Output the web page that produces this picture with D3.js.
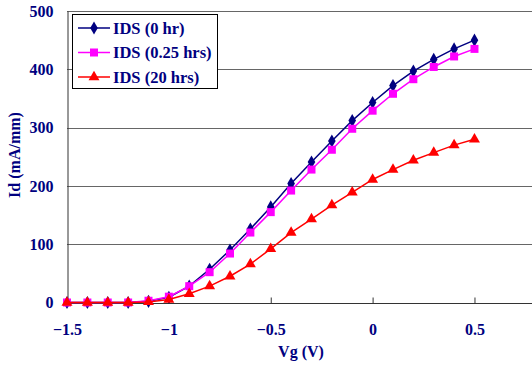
<!DOCTYPE html>
<html>
<head>
<meta charset="utf-8">
<script src="https://cdn.jsdelivr.net/npm/d3@7"></script>
<style>
  body { margin: 0; background: #fff; }
  svg { display: block; }
</style>
</head>
<body>
<div id="chart"></div>
<script>
// gate voltage (V)
const vg = [-1.5, -1.4, -1.3, -1.2, -1.1, -1.0, -0.9, -0.8, -0.7, -0.6, -0.5,
            -0.4, -0.3, -0.2, -0.1, 0.0, 0.1, 0.2, 0.3, 0.4, 0.5];
// drain current (mA/mm)
const ids0 = [0, 0, 0, 0, 2, 9, 28, 57, 90, 126, 164, 204, 241, 277, 312, 343, 372, 397, 417, 435, 450];
const ids025 = [0, 0, 0, 0, 3, 10, 28, 52, 84, 120, 155, 192, 228, 262, 298, 329, 358, 383, 404, 422, 435];
const ids20 = [0, 0, 0, 0, 1, 5, 15, 28, 45, 66, 92, 120, 143, 167, 189, 211, 228, 244, 257, 270, 280];

const seriesNames = ['IDS (0 hr)', 'IDS (0.25 hrs)', 'IDS (20 hrs)'];
const xTicks = [-1.5, -1, -0.5, 0, 0.5];
const yTicks = [0, 100, 200, 300, 400, 500];

const series = [
  { name: seriesNames[0], values: ids0, color: '#000080', symbol: d3.symbolDiamond, size: 50 },
  { name: seriesNames[1], values: ids025, color: '#ff00ff', symbol: d3.symbolSquare, size: 64 },
  { name: seriesNames[2], values: ids20, color: '#ff0000', symbol: d3.symbolTriangle, size: 52 }
];

const width = 532, height = 365;
const font = '"Liberation Serif", "Times New Roman", serif';
const textColor = '#000080';

const svg = d3.select('#chart').append('svg')
  .attr('width', width)
  .attr('height', height);

const x = d3.scaleLinear().domain([-1.5, 0.8]).range([67, 535.6]);
const y = d3.scaleLinear().domain([0, 500]).range([302.5, 11]);

// gridlines
svg.append('g')
  .selectAll('line')
  .data(yTicks.filter(d => d > 0))
  .join('line')
    .attr('x1', x(-1.5))
    .attr('x2', width)
    .attr('y1', d => Math.round(y(d)) + 0.5)
    .attr('y2', d => Math.round(y(d)) + 0.5)
    .attr('stroke', '#666')
    .attr('stroke-width', 1);

// X axis
const xAxis = svg.append('g')
  .attr('transform', `translate(0,${Math.round(y(0)) + 0.5})`)
  .call(d3.axisBottom(x).tickValues(xTicks).tickSizeInner(-6).tickSizeOuter(0).tickPadding(20)
    .tickFormat(d => d3.format('')(d)));
xAxis.select('.domain').attr('stroke', '#333').attr('d', `M${x(-1.5)},0H${width}`);
xAxis.selectAll('line').attr('stroke', '#333');
xAxis.selectAll('text')
  .style('font-family', font)
  .style('font-size', '16px')
  .style('font-weight', 'bold')
  .attr('fill', textColor);
xAxis.selectAll('.tick').filter(d => d === -1.5).select('line').remove();

// Y axis
const yAxis = svg.append('g')
  .attr('transform', `translate(${Math.round(x(-1.5)) + 0.5},0)`)
  .call(d3.axisLeft(y).tickValues(yTicks).tickSizeInner(0).tickSizeOuter(0).tickPadding(14));
yAxis.select('.domain').attr('stroke', '#333');
yAxis.selectAll('text')
  .style('font-family', font)
  .style('font-size', '16px')
  .style('font-weight', 'bold')
  .attr('fill', textColor);

// axis titles
svg.append('text')
  .attr('x', 301)
  .attr('y', 357)
  .attr('text-anchor', 'middle')
  .style('font-family', font)
  .style('font-size', '16px')
  .style('font-weight', 'bold')
  .attr('fill', textColor)
  .text('Vg (V)');

svg.append('text')
  .attr('transform', 'translate(20,155) rotate(-90)')
  .attr('text-anchor', 'middle')
  .style('font-family', font)
  .style('font-size', '16px')
  .style('font-weight', 'bold')
  .attr('fill', textColor)
  .text('Id (mA/mm)');

// series lines and markers
const line = d3.line()
  .x((d, i) => x(vg[i]))
  .y(d => y(d));

series.forEach(s => {
  const g = svg.append('g');
  g.append('path')
    .datum(s.values)
    .attr('fill', 'none')
    .attr('stroke', s.color)
    .attr('stroke-width', 1.5)
    .attr('d', line);
  g.selectAll('path.marker')
    .data(s.values)
    .join('path')
      .attr('class', 'marker')
      .attr('transform', (d, i) => `translate(${x(vg[i])},${y(d)})`)
      .attr('d', d3.symbol().type(s.symbol).size(s.size))
      .attr('fill', s.color);
});

// legend
const legend = svg.append('g');
legend.append('rect')
  .attr('x', 72.5)
  .attr('y', 14.5)
  .attr('width', 145)
  .attr('height', 74)
  .attr('fill', '#fff')
  .attr('stroke', '#000')
  .attr('stroke-width', 1);

series.forEach((s, i) => {
  const ly = 28 + i * 24.5;
  legend.append('line')
    .attr('x1', 78).attr('x2', 110)
    .attr('y1', ly).attr('y2', ly)
    .attr('stroke', s.color)
    .attr('stroke-width', 1.5);
  legend.append('path')
    .attr('transform', `translate(94,${ly})`)
    .attr('d', d3.symbol().type(s.symbol).size(s.size))
    .attr('fill', s.color);
  legend.append('text')
    .attr('x', 113)
    .attr('y', ly + 5.5)
    .style('font-family', font)
    .style('font-size', '16.5px')
    .style('font-weight', 'bold')
    .attr('fill', textColor)
    .text(s.name);
});
</script>
</body>
</html>
